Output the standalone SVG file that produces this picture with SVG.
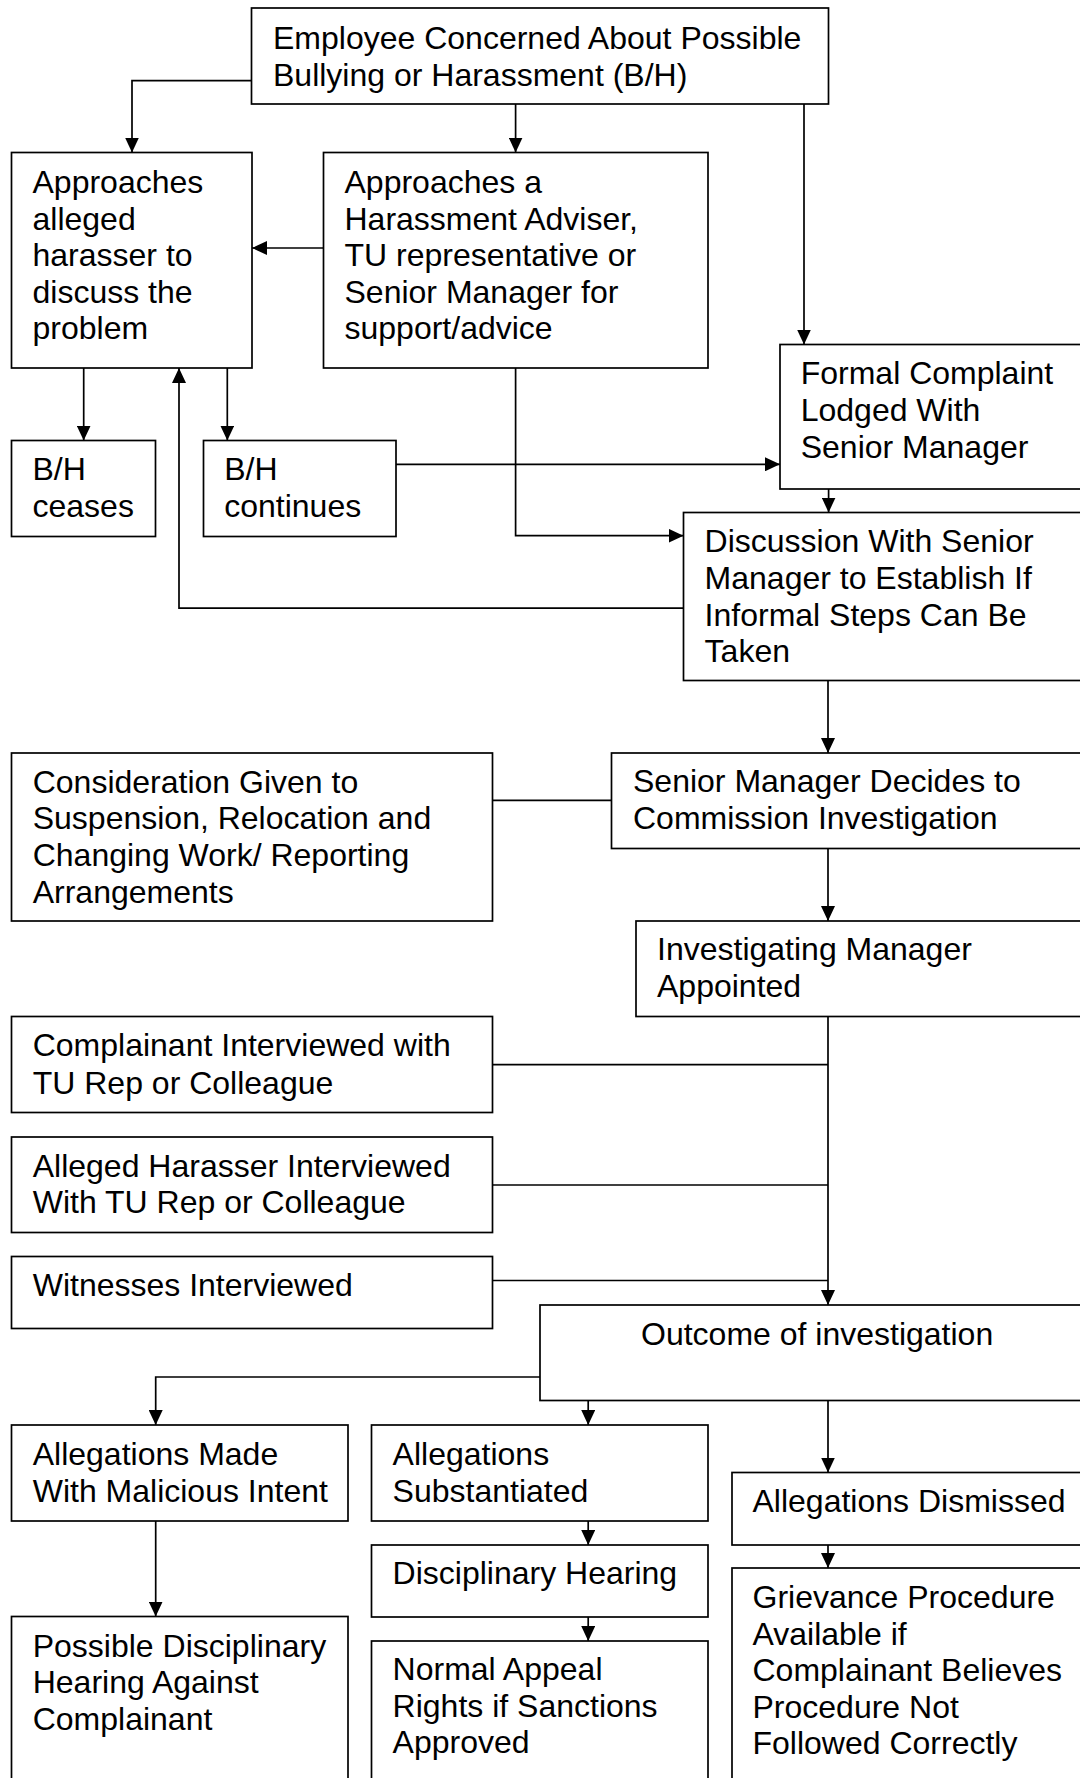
<svg xmlns="http://www.w3.org/2000/svg" width="1080" height="1778" viewBox="0 0 1080 1778">
<style>
.box{fill:#fff;stroke:#000;stroke-width:1.7}
.ln{fill:none;stroke:#000;stroke-width:1.7}
.arr{marker-end:url(#ah)}
text{font-family:"Liberation Sans",Arial,sans-serif;font-size:32px;fill:#000}
</style>
<defs>
<marker id="ah" markerUnits="userSpaceOnUse" markerWidth="15" markerHeight="14" refX="15" refY="7" orient="auto">
<path d="M0,0 L15,7 L0,14 Z" fill="#000"/>
</marker>
</defs>
<rect width="1080" height="1778" fill="#fff"/>
<g id="connectors">
<path class="ln arr" d="M251.5,80.7 H132 V152.5"/>
<path class="ln arr" d="M515.6,104 V152.5"/>
<path class="ln arr" d="M804,104 V344.5"/>
<path class="ln arr" d="M323.5,248 H252"/>
<path class="ln arr" d="M83.7,368 V440.5"/>
<path class="ln arr" d="M227.3,368 V440.5"/>
<path class="ln arr" d="M396,464.3 H780"/>
<path class="ln arr" d="M515.6,368 V535.7 H683.5"/>
<path class="ln arr" d="M828.6,489 V512.5"/>
<path class="ln arr" d="M683.5,608.2 H179 V368"/>
<path class="ln arr" d="M828,680.5 V753"/>
<path class="ln" d="M492.5,800.3 H611.5"/>
<path class="ln arr" d="M828,848.5 V921"/>
<path class="ln arr" d="M828,1016.5 V1305"/>
<path class="ln" d="M492.5,1064.6 H828"/>
<path class="ln" d="M492.5,1185 H828"/>
<path class="ln" d="M492.5,1280.5 H828"/>
<path class="ln arr" d="M540,1377 H155.7 V1425"/>
<path class="ln arr" d="M588.2,1400.5 V1425"/>
<path class="ln arr" d="M828,1400.5 V1472.5"/>
<path class="ln arr" d="M155.7,1521 V1616.5"/>
<path class="ln arr" d="M588.2,1521 V1545"/>
<path class="ln arr" d="M588.2,1617 V1641"/>
<path class="ln arr" d="M828,1545 V1568"/>
</g>
<g id="n-employee"><rect class="box" x="251.5" y="8" width="577" height="96"/>
<text x="273" y="48.5">Employee Concerned About Possible</text><text x="273" y="85.5">Bullying or Harassment (B/H)</text></g>
<g id="n-approaches"><rect class="box" x="11.5" y="152.5" width="240.5" height="215.5"/>
<text x="32.5" y="193">Approaches</text><text x="32.5" y="229.6">alleged</text><text x="32.5" y="266.2">harasser to</text><text x="32.5" y="302.8">discuss the</text><text x="32.5" y="339.4">problem</text></g>
<g id="n-adviser"><rect class="box" x="323.5" y="152.5" width="384.5" height="215.5"/>
<text x="344.5" y="193">Approaches a</text><text x="344.5" y="229.6">Harassment Adviser,</text><text x="344.5" y="266.2">TU representative or</text><text x="344.5" y="302.8">Senior Manager for</text><text x="344.5" y="339.4">support/advice</text></g>
<g id="n-formal"><rect class="box" x="780" y="344.5" width="310" height="144.5"/>
<text x="800.7" y="384">Formal Complaint</text><text x="800.7" y="421">Lodged With</text><text x="800.7" y="458">Senior Manager</text></g>
<g id="n-ceases"><rect class="box" x="11.5" y="440.5" width="144" height="96"/>
<text x="32.5" y="480.3">B/H</text><text x="32.5" y="517">ceases</text></g>
<g id="n-continues"><rect class="box" x="203.5" y="440.5" width="192.5" height="96"/>
<text x="224.2" y="480.3">B/H</text><text x="224.2" y="517">continues</text></g>
<g id="n-discussion"><rect class="box" x="683.5" y="512.5" width="410" height="168"/>
<text x="704.6" y="551.7">Discussion With Senior</text><text x="704.6" y="588.6">Manager to Establish If</text><text x="704.6" y="625.5">Informal Steps Can Be</text><text x="704.6" y="662.4">Taken</text></g>
<g id="n-consideration"><rect class="box" x="11.5" y="753" width="481" height="168"/>
<text x="32.7" y="792.5">Consideration Given to</text><text x="32.7" y="829.3">Suspension, Relocation and</text><text x="32.7" y="866.1">Changing Work/ Reporting</text><text x="32.7" y="902.9">Arrangements</text></g>
<g id="n-senior"><rect class="box" x="611.5" y="753" width="480" height="95.5"/>
<text x="633" y="792">Senior Manager Decides to</text><text x="633" y="828.6">Commission Investigation</text></g>
<g id="n-investigating"><rect class="box" x="636" y="921" width="460" height="95.5"/>
<text x="657" y="960">Investigating Manager</text><text x="657" y="997">Appointed</text></g>
<g id="n-complainant"><rect class="box" x="11.5" y="1016.5" width="481" height="96"/>
<text x="32.7" y="1056.4">Complainant Interviewed with</text><text x="32.7" y="1093.5">TU Rep or Colleague</text></g>
<g id="n-alleged"><rect class="box" x="11.5" y="1137" width="481" height="95.5"/>
<text x="32.7" y="1176.6">Alleged Harasser Interviewed</text><text x="32.7" y="1213.2">With TU Rep or Colleague</text></g>
<g id="n-witnesses"><rect class="box" x="11.5" y="1256.5" width="481" height="72"/>
<text x="32.7" y="1296.2">Witnesses Interviewed</text></g>
<g id="n-outcome"><rect class="box" x="540" y="1305" width="560" height="95.5"/>
<text x="641" y="1344.5">Outcome of investigation</text></g>
<g id="n-malicious"><rect class="box" x="11.5" y="1425" width="336.5" height="96"/>
<text x="32.7" y="1465">Allegations Made</text><text x="32.7" y="1501.5">With Malicious Intent</text></g>
<g id="n-substantiated"><rect class="box" x="371.5" y="1425" width="336.5" height="96"/>
<text x="392.6" y="1465">Allegations</text><text x="392.6" y="1501.5">Substantiated</text></g>
<g id="n-dismissed"><rect class="box" x="732" y="1472.5" width="360" height="72.5"/>
<text x="752.5" y="1512.3">Allegations Dismissed</text></g>
<g id="n-hearing"><rect class="box" x="371.5" y="1545" width="336.5" height="72"/>
<text x="392.6" y="1583.7">Disciplinary Hearing</text></g>
<g id="n-possible"><rect class="box" x="11.5" y="1616.5" width="336.5" height="200"/>
<text x="32.7" y="1657">Possible Disciplinary</text><text x="32.7" y="1693">Hearing Against</text><text x="32.7" y="1729.5">Complainant</text></g>
<g id="n-appeal"><rect class="box" x="371.5" y="1641" width="336.5" height="200"/>
<text x="392.6" y="1680">Normal Appeal</text><text x="392.6" y="1716.5">Rights if Sanctions</text><text x="392.6" y="1753">Approved</text></g>
<g id="n-grievance"><rect class="box" x="732" y="1568" width="360" height="250"/>
<text x="752.5" y="1608">Grievance Procedure</text><text x="752.5" y="1644.6">Available if</text><text x="752.5" y="1681.2">Complainant Believes</text><text x="752.5" y="1717.8">Procedure Not</text><text x="752.5" y="1754.4">Followed Correctly</text></g>
</svg>
